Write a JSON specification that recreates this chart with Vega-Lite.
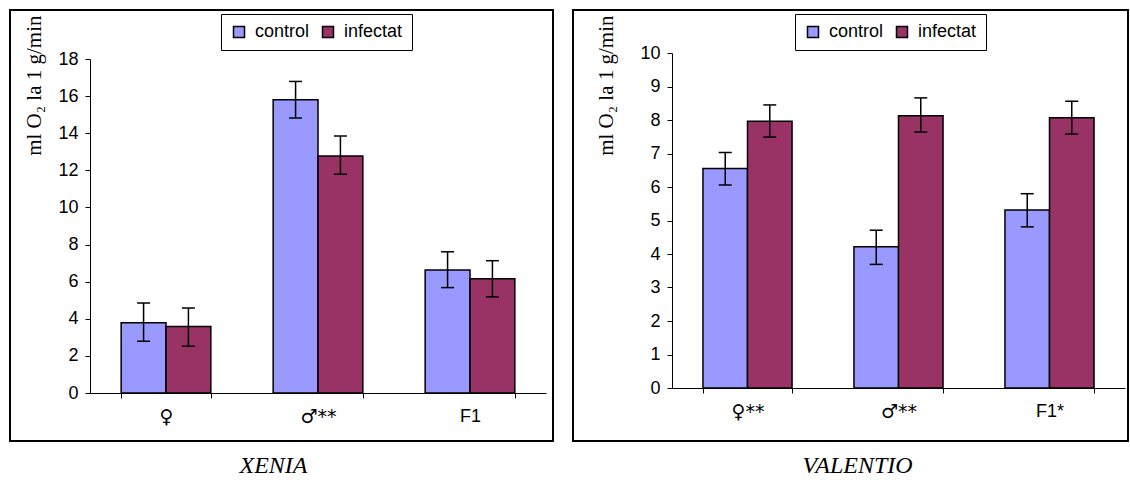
{
  "$schema": "https://vega.github.io/schema/vega-lite/v6.json",
  "padding": {"left": 9, "top": 9, "right": 0, "bottom": 0},
  "background": "white",
  "datasets": {
    "xenia": [
      {"cat": "♀", "group": "control", "value": 3.78, "lo": 2.79, "hi": 4.85},
      {"cat": "♀", "group": "infectat", "value": 3.58, "lo": 2.52, "hi": 4.58},
      {"cat": "♂**", "group": "control", "value": 15.8, "lo": 14.82, "hi": 16.79},
      {"cat": "♂**", "group": "infectat", "value": 12.77, "lo": 11.79, "hi": 13.85},
      {"cat": "F1", "group": "control", "value": 6.63, "lo": 5.68, "hi": 7.61},
      {"cat": "F1", "group": "infectat", "value": 6.16, "lo": 5.18, "hi": 7.13}
    ],
    "valentio": [
      {"cat": "♀**", "group": "control", "value": 6.55, "lo": 6.06, "hi": 7.03},
      {"cat": "♀**", "group": "infectat", "value": 7.96, "lo": 7.49, "hi": 8.45},
      {"cat": "♂**", "group": "control", "value": 4.22, "lo": 3.69, "hi": 4.71},
      {"cat": "♂**", "group": "infectat", "value": 8.13, "lo": 7.64, "hi": 8.66},
      {"cat": "F1*", "group": "control", "value": 5.31, "lo": 4.81, "hi": 5.8},
      {"cat": "F1*", "group": "infectat", "value": 8.07, "lo": 7.58, "hi": 8.56}
    ]
  },
  "config": {
    "view": {"stroke": "black", "strokeWidth": 2},
    "font": "Liberation Sans",
    "axis": {
      "domainColor": "black", "tickColor": "black", "labelColor": "black",
      "labelFont": "Liberation Sans", "labelFontSize": 18, "tickSize": 5,
      "domainWidth": 1, "tickWidth": 1, "grid": false,
      "titleFont": "Liberation Serif", "titleFontWeight": "normal", "titleFontSize": 21, "titleColor": "black"
    },
    "legend": {
      "padding": 9, "strokeColor": "black", "strokeWidth": 1, "fillColor": "white",
      "symbolType": "square", "symbolSize": 121, "symbolStrokeColor": "black", "symbolStrokeWidth": 1.5,
      "symbolOpacity": 1,
      "labelFont": "Liberation Sans", "labelFontSize": 18, "labelColor": "black",
      "labelOffset": 7, "columnPadding": 9
    },
    "title": {"font": "Liberation Serif", "fontStyle": "italic", "fontSize": 24, "fontWeight": "normal", "orient": "bottom", "offset": 13, "color": "black", "anchor": "middle"}
  },
  "spacing": 20,
  "bounds": "flush",
  "resolve": {
    "scale": {"x": "independent", "y": "independent", "color": "independent", "xOffset": "independent"},
    "legend": {"color": "independent"},
    "axis": {"x": "independent", "y": "independent"}
  },
  "hconcat": [
    {
      "width": 543, "height": 431,
      "data": {"name": "xenia"},
      "title": {"text": "XENIA", "dx": -8},
      "encoding": {
        "x": {"field": "cat", "type": "nominal", "sort": ["♀", "♂**", "F1"],
              "scale": {"range": [80, 536], "paddingInner": 0.41, "paddingOuter": 0.205},
              "axis": {"title": null, "orient": "bottom", "offset": -48, "tickBand": "extent", "labelAngle": 0, "labelPadding": 9,
                       "labelFont": {"expr": "test(/♀|♂/, datum.label) ? 'DejaVu Sans' : 'Liberation Sans'"},
                       "labelFontSize": {"expr": "test(/♀|♂/, datum.label) ? 19 : 18"}}},
        "xOffset": {"field": "group", "type": "nominal", "sort": ["control", "infectat"]}
      },
      "layer": [
        {
          "mark": {"type": "bar", "stroke": "black", "strokeWidth": 1.5},
          "encoding": {
            "y": {"field": "value", "type": "quantitative", "title": "ml O₂ la 1 g/min",
                  "scale": {"domain": [0, 18], "range": [383, 49], "nice": false, "zero": true},
                  "axis": {"offset": -80, "values": [0, 2, 4, 6, 8, 10, 12, 14, 16, 18], "labelPadding": 7,
                           "titleX": -56, "titleY": 5, "titleAlign": "right", "titleBaseline": "middle", "titleAngle": -90}},
            "color": {"field": "group", "type": "nominal",
                      "scale": {"domain": ["control", "infectat"], "range": ["#9999FF", "#993366"]},
                      "legend": {"orient": "none", "legendX": 211, "legendY": 4, "direction": "horizontal", "title": null}}
          }
        },
        {
          "mark": {"type": "rule", "color": "black", "strokeWidth": 1.5},
          "encoding": {
            "y": {"field": "lo", "type": "quantitative", "title": "ml O₂ la 1 g/min"},
            "y2": {"field": "hi"}
          }
        },
        {
          "mark": {"type": "tick", "color": "black", "size": 13, "thickness": 1.5, "opacity": 1},
          "encoding": {"y": {"field": "lo", "type": "quantitative", "title": "ml O₂ la 1 g/min"}}
        },
        {
          "mark": {"type": "tick", "color": "black", "size": 13, "thickness": 1.5, "opacity": 1},
          "encoding": {"y": {"field": "hi", "type": "quantitative", "title": "ml O₂ la 1 g/min"}}
        }
      ]
    },
    {
      "width": 555, "height": 431,
      "data": {"name": "valentio"},
      "title": {"text": "VALENTIO", "dx": 7},
      "encoding": {
        "x": {"field": "cat", "type": "nominal", "sort": ["♀**", "♂**", "F1*"],
              "scale": {"range": [99, 552], "paddingInner": 0.41, "paddingOuter": 0.205},
              "axis": {"title": null, "orient": "bottom", "offset": -53, "tickBand": "extent", "labelAngle": 0, "labelPadding": 9,
                       "labelFont": {"expr": "test(/♀|♂/, datum.label) ? 'DejaVu Sans' : 'Liberation Sans'"},
                       "labelFontSize": {"expr": "test(/♀|♂/, datum.label) ? 19 : 18"}}},
        "xOffset": {"field": "group", "type": "nominal", "sort": ["control", "infectat"]}
      },
      "layer": [
        {
          "mark": {"type": "bar", "stroke": "black", "strokeWidth": 1.5},
          "encoding": {
            "y": {"field": "value", "type": "quantitative", "title": "ml O₂ la 1 g/min",
                  "scale": {"domain": [0, 10], "range": [378, 43], "nice": false, "zero": true},
                  "axis": {"offset": -99, "values": [0, 1, 2, 3, 4, 5, 6, 7, 8, 9, 10], "labelPadding": 7,
                           "titleX": -66, "titleY": 5, "titleAlign": "right", "titleBaseline": "middle", "titleAngle": -90}},
            "color": {"field": "group", "type": "nominal",
                      "scale": {"domain": ["control", "infectat"], "range": ["#9999FF", "#993366"]},
                      "legend": {"orient": "none", "legendX": 222, "legendY": 4, "direction": "horizontal", "title": null}}
          }
        },
        {
          "mark": {"type": "rule", "color": "black", "strokeWidth": 1.5},
          "encoding": {
            "y": {"field": "lo", "type": "quantitative", "title": "ml O₂ la 1 g/min"},
            "y2": {"field": "hi"}
          }
        },
        {
          "mark": {"type": "tick", "color": "black", "size": 13, "thickness": 1.5, "opacity": 1},
          "encoding": {"y": {"field": "lo", "type": "quantitative", "title": "ml O₂ la 1 g/min"}}
        },
        {
          "mark": {"type": "tick", "color": "black", "size": 13, "thickness": 1.5, "opacity": 1},
          "encoding": {"y": {"field": "hi", "type": "quantitative", "title": "ml O₂ la 1 g/min"}}
        }
      ]
    }
  ]
}
